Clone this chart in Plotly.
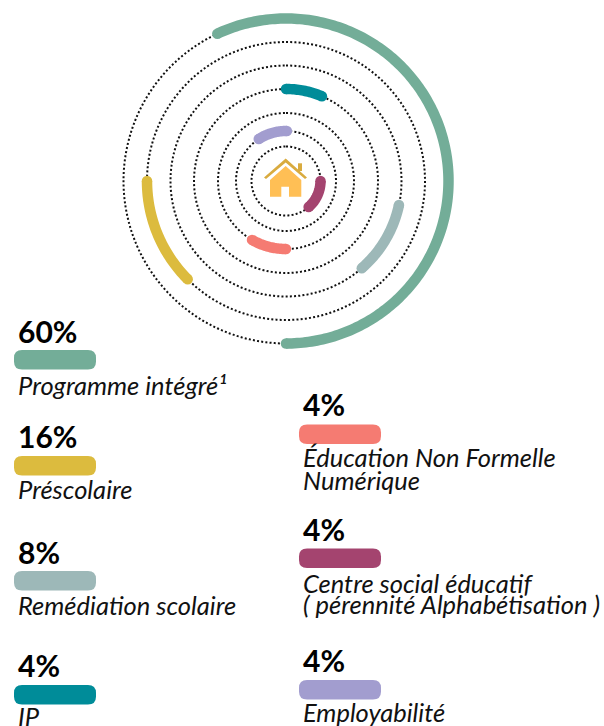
import numpy as np
import plotly.graph_objects as go

W, H = 604, 726

# ---- data ----
categories = ["Programme intégré", "Préscolaire", "Remédiation scolaire", "IP",
              "Éducation Non Formelle Numérique", "Centre social éducatif", "Employabilité"]
percent_labels = ["60%", "16%", "8%", "4%", "4%", "4%", "4%"]
ring_radii = [162.5, 139, 115.5, 92, 68, 50, 34.5]
arc_ring_index = [0, 1, 2, 3, 4, 6, 5]
arc_start_deg = [-25, 225, 102, 0, 180, 90, -33]
arc_end_deg = [180, 270, 139, 23, 210, 139, 1]
colors = ["#73ad98", "#dcbb3e", "#9db8b8", "#008c99", "#f57b72", "#a4446f", "#a29dcf"]

# ---- helpers ----
def px(x):
    return x / W

def py(y):
    return 1 - y / H

def path(points, close=True):
    s = "M " + " L ".join(f"{px(x):.5f},{py(y):.5f}" for x, y in points)
    return s + (" Z" if close else "")

def pill(x0, y0, x1, y1, r=8):
    P = lambda x, y: f"{px(x):.5f},{py(y):.5f}"
    return (f"M {P(x0 + r, y0)} L {P(x1 - r, y0)} Q {P(x1, y0)} {P(x1, y0 + r)} "
            f"L {P(x1, y1 - r)} Q {P(x1, y1)} {P(x1 - r, y1)} L {P(x0 + r, y1)} "
            f"Q {P(x0, y1)} {P(x0, y1 - r)} L {P(x0, y0 + r)} Q {P(x0, y0)} {P(x0 + r, y0)} Z")

fig = go.Figure()

# dotted rings
full_circle = list(np.arange(0, 361, 1.0))
for r in ring_radii:
    fig.add_trace(go.Scatterpolar(
        r=[r] * len(full_circle), theta=full_circle, mode="lines",
        line=dict(color="#111111", width=2, dash="2px,2.2px"),
        hoverinfo="skip", showlegend=False))

# coloured arcs with round ends
for name, idx, a0, a1, col in zip(categories, arc_ring_index, arc_start_deg, arc_end_deg, colors):
    theta = list(np.linspace(a0, a1, int(a1 - a0) + 1))
    fig.add_trace(go.Scatterpolar(
        r=[ring_radii[idx]] * len(theta), theta=theta, mode="lines", name=name,
        line=dict(color=col, width=10.5),
        hoverinfo="name", showlegend=False))
    fig.add_trace(go.Scatterpolar(
        r=[ring_radii[idx]] * 2, theta=[a0, a1], mode="markers", name=name,
        marker=dict(color=col, size=10.5, symbol="circle", opacity=1, line=dict(width=0, color=col)),
        hoverinfo="name", showlegend=False))

# legend layout
left_x, right_x = 14, 299
entries = [
    (left_x, 350, 331, [("Programme intégré¹", 384.5)]),
    (left_x, 456, 436, [("Préscolaire", 489.5)]),
    (left_x, 571, 552, [("Remédiation scolaire", 604.5)]),
    (left_x, 685, 665, [("IP", 716)]),
    (right_x, 424.5, 404, [("Éducation Non Formelle", 457.5), ("Numérique", 479.5)]),
    (right_x, 548.5, 529, [("Centre social éducatif", 582.5), ("( pérennité Alphabétisation )", 603.5)]),
    (right_x, 680, 660, [("Employabilité", 712)]),
]
shapes, annotations = [], []
font = "Lato, Carlito, sans-serif"
for (x, ytop, ypct, lines), pct, col in zip(entries, percent_labels, colors):
    shapes.append(dict(type="path", path=pill(x, ytop, x + 82, ytop + 19.5),
                       xref="paper", yref="paper", fillcolor=col, line=dict(width=0)))
    annotations.append(dict(text=f"<b>{pct}</b>", x=px(x + 2), y=py(ypct), xref="paper", yref="paper",
                            xanchor="left", yanchor="middle", showarrow=False,
                            font=dict(family=font, size=30, color="#000000")))
    for txt, yy in lines:
        annotations.append(dict(text=f"<i>{txt}</i>", x=px(x + 1.5), y=py(yy), xref="paper", yref="paper",
                                xanchor="left", yanchor="middle", showarrow=False,
                                font=dict(family=font, size=25.5, color="#111111")))

# house icon
roof = "#d9ab3f"
body = "#ffbf55"
shapes.append(dict(type="path", xref="paper", yref="paper", fillcolor=roof, line=dict(width=0),
                   path=path([(298, 163.3), (302, 163.3), (302, 171), (298, 171)])))
shapes.append(dict(type="path", xref="paper", yref="paper", fillcolor=roof, line=dict(width=0),
                   path=path([(285.7, 158.5), (307, 177.5), (305, 179), (285.7, 162.5),
                              (266, 179), (264, 177.5)])))
shapes.append(dict(type="path", xref="paper", yref="paper", fillcolor=body, line=dict(width=0),
                   path=path([(285.7, 166), (301.3, 180), (301.3, 196.7), (289, 196.7), (289, 186.7),
                              (281.3, 186.7), (281.3, 196.7), (270, 196.7), (270, 180)])))

fig.update_layout(
    width=W, height=H, margin=dict(l=0, r=0, t=0, b=0),
    paper_bgcolor="white", plot_bgcolor="white", showlegend=False,
    polar=dict(
        domain=dict(x=[px(286 - 180), px(286 + 180)], y=[py(181 + 180), py(181 - 180)]),
        bgcolor="rgba(0,0,0,0)",
        radialaxis=dict(range=[0, 180], visible=False),
        angularaxis=dict(direction="clockwise", rotation=90, visible=False),
    ),
    shapes=shapes, annotations=annotations,
)

fig.write_html("out.html", config={"displayModeBar": False},
               post_script="document.body.style.margin='0';document.documentElement.style.overflow='hidden';")
